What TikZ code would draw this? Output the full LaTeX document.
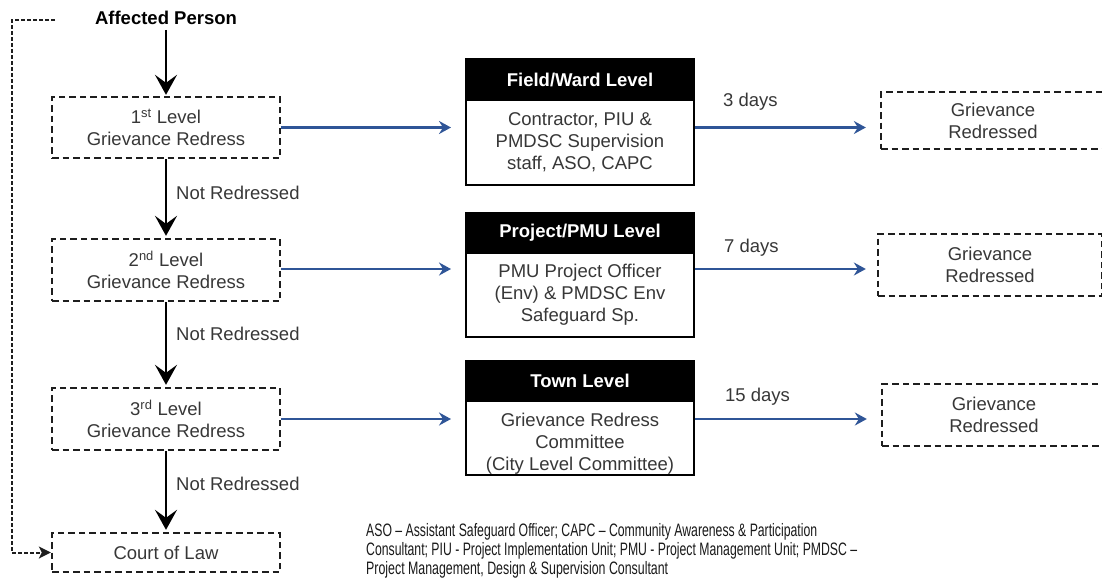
\documentclass[tikz,border=0pt]{standalone}
\usepackage{fontspec}
\setmainfont{Liberation Sans}
\usepackage{graphicx}
\usetikzlibrary{arrows.meta}
\definecolor{arrowblue}{RGB}{47,85,151}
\definecolor{txt}{RGB}{55,55,55}
\definecolor{edge}{RGB}{30,30,30}
\begin{document}
\begin{tikzpicture}[x=1pt,y=-1pt,
  font=\fontsize{18.5}{22}\selectfont,
  dbox/.style={draw=edge, line width=2.3pt, dash pattern=on 6.5pt off 4pt,
    minimum width=228pt, inner sep=0pt, align=center, text=txt},
  gbox/.style={dbox, minimum width=224pt},
  hbox/.style={draw=black, fill=black, line width=2pt, minimum width=228pt,
    inner sep=0pt, text=white, font=\fontsize{18.5}{22}\selectfont\bfseries},
  bbox/.style={draw=black, fill=white, line width=2pt, minimum width=228pt,
    inner sep=0pt, align=center, text=txt},
  plain/.style={inner sep=0pt, text=txt},
  karrow/.style={draw=black, line width=2.2pt, -{Stealth[length=20pt,width=22pt,inset=8pt]}},
  barrow/.style={draw=arrowblue, line width=2.3pt, -{Stealth[length=12pt,width=13pt,inset=4pt]}},
  fbline/.style={draw=edge, line width=2pt, dash pattern=on 4pt off 2pt, -{Stealth[length=12pt,width=12pt,inset=3pt]}}
]
\useasboundingbox (0,0) rectangle (1102,586);

% left column
\node[inner sep=0pt, font=\fontsize{18.5}{22}\selectfont\bfseries] (ap) at (166,18) {Affected Person};
\node[dbox, minimum height=61pt] (l1) at (166,127.5) {1\textsuperscript{st} Level\\Grievance Redress};
\node[dbox, minimum height=62pt] (l2) at (166,270) {2\textsuperscript{nd} Level\\Grievance Redress};
\node[dbox, minimum height=62pt] (l3) at (166,419) {3\textsuperscript{rd} Level\\Grievance Redress};
\node[dbox, minimum height=39pt] (court) at (166,552.5) {Court of Law};

% middle column
\node[hbox, minimum height=41pt] (fh) at (580,79.5) {Field/Ward Level};
\node[bbox, minimum height=85pt] (fb) at (580,142.5) {Contractor, PIU \&\\PMDSC Supervision\\staff, ASO, CAPC};
\node[hbox, minimum height=40pt] (ph) at (580,233) {Project/PMU Level};
\node[bbox, minimum height=84pt] (pb) at (580,295) {PMU Project Officer\\(Env) \& PMDSC Env\\Safeguard Sp.};
\node[hbox, minimum height=40pt] (th) at (580,381) {Town Level};
\node[bbox, minimum height=74pt] (tb) at (580,438) {};
\node[plain, align=center] (tbt) at (580,444) {Grievance Redress\\Committee\\(City Level Committee)};

% right column
\node[gbox, minimum height=57pt] (g1) at (993,120.5) {Grievance\\Redressed};
\node[gbox, minimum height=62pt] (g2) at (990,265) {Grievance\\Redressed};
\node[gbox, minimum height=62pt] (g3) at (994,415) {Grievance\\Redressed};

% vertical arrows
\draw[karrow, shorten <=5pt, shorten >=1pt] (ap) -- (l1);
\draw[karrow, shorten >=2pt] (l1) -- (l2);
\draw[karrow, shorten >=2pt] (l2) -- (l3);
\draw[karrow, shorten >=2pt] (l3) -- (court);
\node[plain, anchor=west] (nr1) at (176,193) {Not Redressed};
\node[plain, anchor=west] (nr2) at (176,334) {Not Redressed};
\node[plain, anchor=west] (nr3) at (176,484) {Not Redressed};

% blue arrows
\coordinate (a1) at (280,127.5);
\coordinate (a2) at (280,269);
\coordinate (a3) at (280,419);
\draw[barrow, shorten >=14pt] (l1.east) -- (l1.east -| fb.west);
\draw[barrow, shorten >=14pt] (l2.east |- a2) -- (a2 -| pb.west);
\draw[barrow, shorten >=14pt] (l3.east) -- (l3.east -| tb.west);
\draw[barrow, shorten >=14pt] (fb.east |- a1) -- (a1 -| g1.west);
\draw[barrow, shorten >=11pt] (pb.east |- a2) -- (a2 -| g2.west);
\draw[barrow, shorten >=14pt] (tb.east |- a3) -- (a3 -| g3.west);
\node[plain, anchor=west] (d1) at (723,102) {3 days};
\node[plain, anchor=west] (d2) at (724,248) {7 days};
\node[plain, anchor=west] (d3) at (725,397) {15 days};

% feedback dashed line
\coordinate (fbstart) at (55,20);
\coordinate (fbcorner) at (12,20);
\draw[fbline] (fbstart) -- (fbcorner) -- (fbcorner |- court.west) -- (court.west);

% legend
\node[inner sep=0pt, anchor=north west, align=left, text=black!90,
  font=\fontsize{18}{19}\selectfont] (legend) at (366,523)
 {\resizebox{451pt}{\height}{ASO – Assistant Safeguard Officer; CAPC – Community Awareness \& Participation}\\
  \resizebox{491pt}{\height}{Consultant; PIU - Project Implementation Unit; PMU - Project Management Unit; PMDSC –}\\
  \resizebox{302pt}{\height}{Project Management, Design \& Supervision Consultant}};
\end{tikzpicture}
\end{document}
